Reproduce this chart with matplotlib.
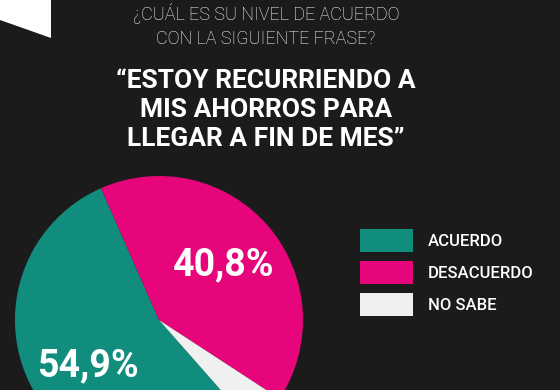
import matplotlib
matplotlib.use("Agg")
import matplotlib.pyplot as plt
from matplotlib.patches import Polygon

# data
categories = ["ACUERDO", "DESACUERDO", "NO SABE"]
values = [54.9, 40.8, 4.3]
colors = ["#118d7d", "#e6057a", "#f0f0f0"]

question = ["¿CUÁL ES SU NIVEL DE ACUERDO", "CON LA SIGUIENTE FRASE?"]
quote = ["“ESTOY RECURRIENDO A", "MIS AHORROS PARA", "LLEGAR A FIN DE MES”"]

W, H = 560, 390
bg = "#1b1b1b"

fig = plt.figure(figsize=(W / 100, H / 100), dpi=100, facecolor=bg)

# white corner tab, top left
fig.patches.append(Polygon([[0, 1], [51 / W, 1], [51 / W, 1 - 38 / H], [0, 1 - 20 / H]],
                           closed=True, transform=fig.transFigure, facecolor="white",
                           edgecolor="none"))

# title text
for i, line in enumerate(question):
    fig.text(266 / W, 1 - (14 + 25 * i) / H, line, color="white", fontsize=13,
             family="Roboto", weight="light", ha="center", va="center")
for i, line in enumerate(quote):
    fig.text(266 / W, 1 - (81 + 29 * i) / H, line, color="white", fontsize=19,
             family="Roboto", weight="bold", ha="center", va="center")

# pie, centre at about (159, 320) px, radius 144 px, partly cut by the bottom edge
cx, cy, r = 159, H - 320, 144
ax = fig.add_axes([(cx - r) / W, (cy - r) / H, 2 * r / W, 2 * r / H])
ax.set_facecolor(bg)


def pct(p):
    return f"{p:.1f}%".replace(".", ",") if p > 10 else ""


wedges, texts, autotexts = ax.pie(values, colors=colors, startangle=-48.6, counterclock=False,
                                  radius=1, autopct=pct, pctdistance=0.59,
                                  wedgeprops=dict(linewidth=0))
for t in autotexts:
    t.set_color("white")
    t.set_fontsize(27)
    t.set_fontweight("bold")
    t.set_family("Roboto")
ax.set_xlim(-1, 1)
ax.set_ylim(-1, 1)
ax.set_aspect("equal")
ax.axis("off")

# legend
leg = fig.legend(wedges, categories, loc="upper left", bbox_to_anchor=(360 / W, 1 - 229 / H),
                 frameon=False, borderpad=0, borderaxespad=0,
                 handlelength=3.2, handleheight=1.7, handletextpad=0.85,
                 labelspacing=0.58, prop=dict(family="Roboto", weight="medium", size=12))
for t in leg.get_texts():
    t.set_color("white")

fig.savefig("out.png", dpi=100, facecolor=bg)
